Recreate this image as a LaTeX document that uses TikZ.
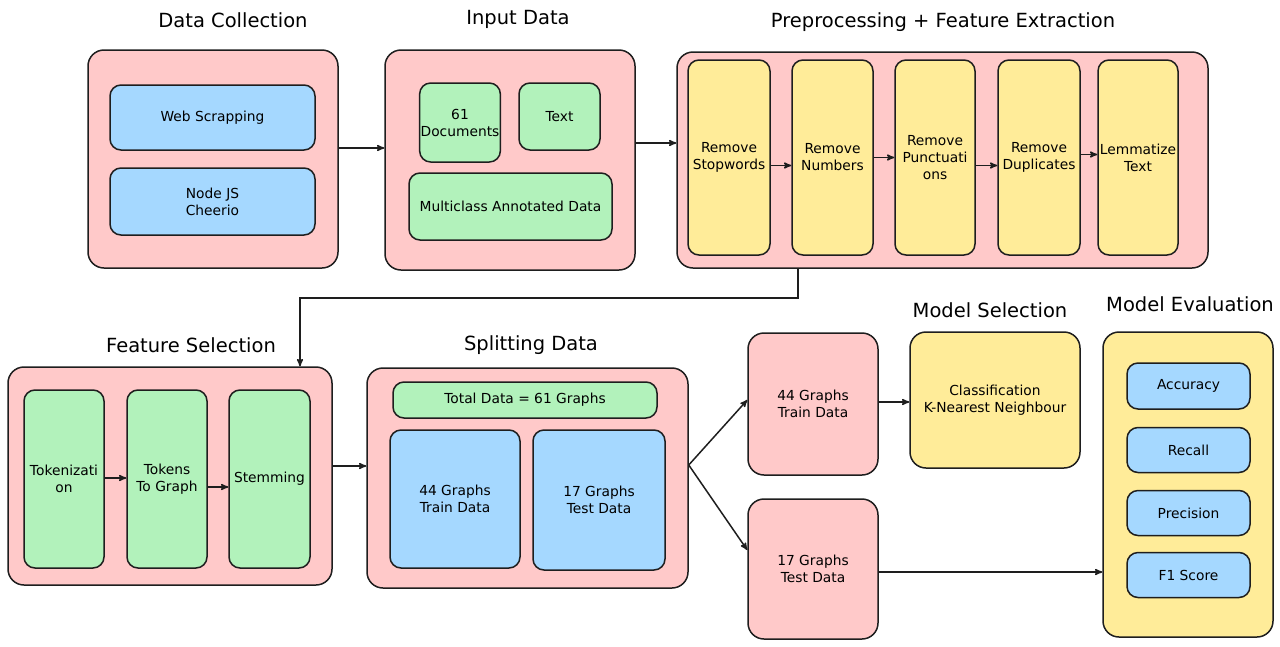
\documentclass[tikz,border=0pt]{standalone}
\usepackage{fontspec}
\setmainfont{DejaVu Sans}
\usetikzlibrary{arrows}
\definecolor{ink}{HTML}{1E1E1E}
\definecolor{pinkfill}{HTML}{FFC9C9}
\definecolor{bluefill}{HTML}{A5D8FF}
\definecolor{greenfill}{HTML}{B2F2BB}
\definecolor{yellowfill}{HTML}{FFEC99}

\begin{document}
\begin{tikzpicture}[x=1pt,y=-1pt,>=stealth',line width=1.5pt,
  group/.style={draw=ink,rounded corners=16pt,fill=pinkfill,inner sep=1pt,align=center,font=\fontsize{13.8}{17}\selectfont},
  item/.style={draw=ink,rounded corners=11pt,inner sep=1pt,align=center,font=\fontsize{13.8}{17}\selectfont},
  wh/.style 2 args={minimum width=#1pt,minimum height=#2pt},
  title/.style={font=\fontsize{19.5}{23}\selectfont}]

\useasboundingbox[fill=white] (0,0) rectangle (1280,646);

% titles
\node[title] (tdc) at (233,20)  {Data Collection};
\node[title] (tid) at (518,19)  {Input Data};
\node[title] (tpp) at (943,22)  {Preprocessing + Feature Extraction};
\node[title] (tfs) at (191,345) {Feature Selection};
\node[title] (tsd) at (531,345) {Splitting Data};
\node[title] (tms) at (990,310) {Model Selection};
\node[title] (tme) at (1190,304) {Model Evaluation};

% groups
\node[group,wh={250}{218}] (dc) at (213,159)   {};
\node[group,wh={250}{220}] (id) at (510,160)   {};
\node[group,wh={531}{216}] (pp) at (942.5,160) {};
\node[group,wh={324}{218}] (fs) at (170,476)   {};
\node[group,wh={321}{220}] (sd) at (527.5,478) {};
\node[group,wh={130}{142}] (train) at (813,404) {44 Graphs\\Train Data};
\node[group,wh={130}{140}] (test)  at (813,569) {17 Graphs\\Test Data};
\node[group,fill=yellowfill,wh={170}{136}] (ms) at (995,400) {Classification\\K-Nearest Neighbour};
\node[group,fill=yellowfill,wh={170}{305}] (me) at (1188,484.5) {};

% data collection
\node[item,fill=bluefill,wh={205}{65}] (web)  at (212.5,117.5) {Web Scrapping};
\node[item,fill=bluefill,wh={205}{67}] (njs)  at (212.5,201.5) {Node JS\\Cheerio};

% input data
\node[item,fill=greenfill,wh={80}{79}]  (docs)  at (460,122.5)   {61\\Documents};
\node[item,fill=greenfill,wh={81}{67}]  (txt)   at (559.5,116.5) {Text};
\node[item,fill=greenfill,wh={203}{67}] (multi) at (510.5,206.5) {Multiclass Annotated Data};

% preprocessing
\node[item,fill=yellowfill,wh={82}{195}] (stop)  at (729,157.5)  {Remove\\Stopwords};
\node[item,fill=yellowfill,wh={81}{195}] (num)   at (832.5,157.5) {Remove\\Numbers};
\node[item,fill=yellowfill,wh={80}{195}] (punc)  at (935,157.5)  {Remove\\Punctuati\\ons};
\node[item,fill=yellowfill,wh={82}{195}] (dup)   at (1039,157.5) {Remove\\Duplicates};
\node[item,fill=yellowfill,wh={80}{195}] (lem)   at (1138,157.5) {Lemmatize\\Text};

% feature selection
\node[item,fill=greenfill,wh={80}{178}] (tok)  at (64,479)    {Tokenizati\\on};
\node[item,fill=greenfill,wh={80}{178}] (tog)  at (167,479)   {Tokens\\To Graph};
\node[item,fill=greenfill,wh={81}{178}] (stem) at (269.5,479) {Stemming};

% splitting data
\node[item,fill=greenfill,wh={264}{36}]  (total) at (525,400) {Total Data = 61 Graphs};
\node[item,fill=bluefill,wh={130}{138}]  (tr44)  at (455,499) {44 Graphs\\Train Data};
\node[item,fill=bluefill,wh={132}{140}]  (te17)  at (599,500) {17 Graphs\\Test Data};

% model evaluation
\node[item,fill=bluefill,wh={123}{46}] (acc)  at (1188.5,386) {Accuracy};
\node[item,fill=bluefill,wh={123}{45}] (rec)  at (1188.5,450) {Recall};
\node[item,fill=bluefill,wh={123}{45}] (prec) at (1188.5,513) {Precision};
\node[item,fill=bluefill,wh={123}{45}] (f1)   at (1188.5,575) {F1 Score};

\coordinate (turn) at (300,298);

\path[->,ink] ([yshift=11pt]dc.east) edge ([yshift=11pt]dc.east -| id.west)
              ([yshift=17pt]id.east) edge ([yshift=17pt]id.east -| pp.west)
              ([yshift=-8pt]stop.east) edge ([yshift=-8pt]stop.east -| num.west)
              (num.east)              edge (num.east -| punc.west)
              ([yshift=-8pt]punc.east) edge ([yshift=-8pt]punc.east -| dup.west)
              ([yshift=3pt]dup.east)  edge ([yshift=3pt]dup.east -| lem.west)
              ([yshift=1pt]tok.east)  edge ([yshift=1pt]tok.east -| tog.west)
              ([yshift=-8pt]tog.east) edge ([yshift=-8pt]tog.east -| stem.west)
              ([yshift=10pt]fs.east)  edge ([yshift=10pt]fs.east -| sd.west)
              ([yshift=13pt]sd.east)  edge ([yshift=4pt]train.west)
              ([yshift=13pt]sd.east)  edge ([yshift=19pt]test.west)
              ([yshift=2pt]train.east) edge ([yshift=2pt]train.east -| ms.west)
              ([yshift=-3pt]test.east) edge ([yshift=-3pt]test.east -| me.west);
\draw[->,ink] ([xshift=-144.5pt]pp.south) |- (turn) -- (turn |- fs.north);
\end{tikzpicture}
\end{document}
